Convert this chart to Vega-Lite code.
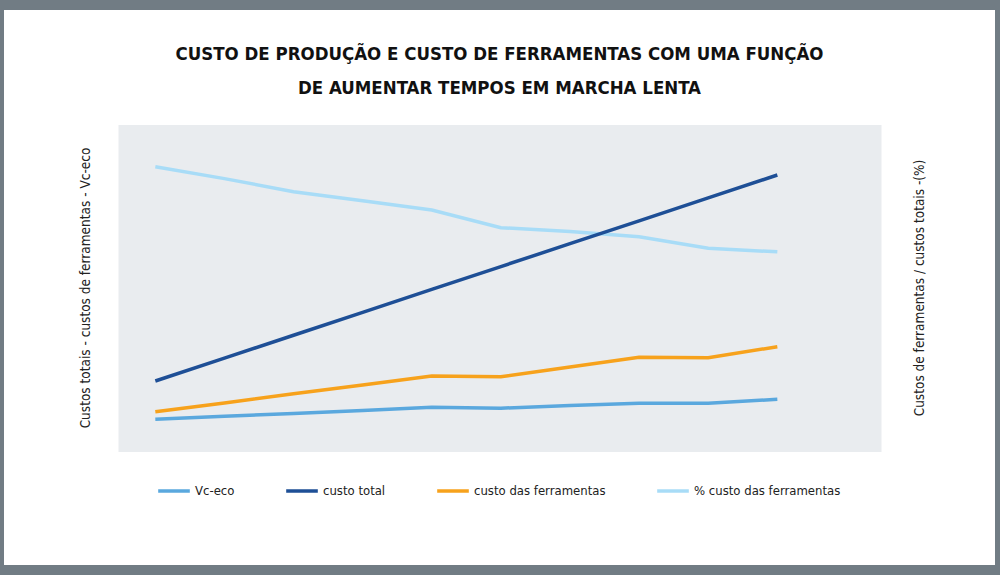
{
  "$schema": "https://vega.github.io/schema/vega-lite/v6.json",
  "width": 763,
  "height": 327,
  "autosize": {"type": "none"},
  "padding": {"left": 118, "top": 124, "right": 119, "bottom": 124},
  "background": "#717c84",
  "title": {
    "text": ["CUSTO DE PRODUÇÃO E CUSTO DE FERRAMENTAS COM UMA FUNÇÃO", "DE AUMENTAR TEMPOS EM MARCHA LENTA"],
    "font": "DejaVu Sans Condensed, serif",
    "fontSize": 18.5,
    "fontWeight": "bold",
    "color": "#111111",
    "lineHeight": 34,
    "anchor": "middle",
    "frame": "group",
    "offset": 27
  },
  "data": {
    "values": [
      {"x": 1, "serie": "Vc-eco", "v": 9.7},
      {"x": 2, "serie": "Vc-eco", "v": 10.6},
      {"x": 3, "serie": "Vc-eco", "v": 11.5},
      {"x": 4, "serie": "Vc-eco", "v": 12.4},
      {"x": 5, "serie": "Vc-eco", "v": 13.4},
      {"x": 6, "serie": "Vc-eco", "v": 13.1},
      {"x": 7, "serie": "Vc-eco", "v": 13.9},
      {"x": 8, "serie": "Vc-eco", "v": 14.6},
      {"x": 9, "serie": "Vc-eco", "v": 14.6},
      {"x": 10, "serie": "Vc-eco", "v": 15.8},
      {"x": 1, "serie": "custo total", "v": 21.4},
      {"x": 2, "serie": "custo total", "v": 28.4},
      {"x": 3, "serie": "custo total", "v": 35.4},
      {"x": 4, "serie": "custo total", "v": 42.4},
      {"x": 5, "serie": "custo total", "v": 49.4},
      {"x": 6, "serie": "custo total", "v": 56.4},
      {"x": 7, "serie": "custo total", "v": 63.4},
      {"x": 8, "serie": "custo total", "v": 70.4},
      {"x": 9, "serie": "custo total", "v": 77.4},
      {"x": 10, "serie": "custo total", "v": 84.4},
      {"x": 1, "serie": "custo das ferramentas", "v": 12.0},
      {"x": 2, "serie": "custo das ferramentas", "v": 14.7},
      {"x": 3, "serie": "custo das ferramentas", "v": 17.5},
      {"x": 4, "serie": "custo das ferramentas", "v": 20.2},
      {"x": 5, "serie": "custo das ferramentas", "v": 22.9},
      {"x": 6, "serie": "custo das ferramentas", "v": 22.7},
      {"x": 7, "serie": "custo das ferramentas", "v": 25.7},
      {"x": 8, "serie": "custo das ferramentas", "v": 28.7},
      {"x": 9, "serie": "custo das ferramentas", "v": 28.5},
      {"x": 10, "serie": "custo das ferramentas", "v": 31.9},
      {"x": 1, "serie": "% custo das ferramentas", "v": 86.9},
      {"x": 2, "serie": "% custo das ferramentas", "v": 83.3},
      {"x": 3, "serie": "% custo das ferramentas", "v": 79.3},
      {"x": 4, "serie": "% custo das ferramentas", "v": 76.5},
      {"x": 5, "serie": "% custo das ferramentas", "v": 73.7},
      {"x": 6, "serie": "% custo das ferramentas", "v": 68.3},
      {"x": 7, "serie": "% custo das ferramentas", "v": 67.1},
      {"x": 8, "serie": "% custo das ferramentas", "v": 65.5},
      {"x": 9, "serie": "% custo das ferramentas", "v": 62.0},
      {"x": 10, "serie": "% custo das ferramentas", "v": 60.9}
    ]
  },
  "encoding": {
    "x": {"field": "x", "type": "quantitative", "scale": {"domain": [0.46, 11.5]}, "axis": null},
    "color": {
      "field": "serie",
      "type": "nominal",
      "scale": {
        "domain": ["Vc-eco", "custo total", "custo das ferramentas", "% custo das ferramentas"],
        "range": ["#5aa8de", "#1e4f96", "#f7a21c", "#a8dcf7"]
      },
      "legend": {
        "orient": "none",
        "legendX": 38,
        "legendY": 349,
        "direction": "horizontal",
        "title": null,
        "symbolType": "stroke",
        "symbolSize": 1000,
        "symbolStrokeWidth": 3.5,
        "labelFont": "DejaVu Sans Condensed, serif",
        "labelFontSize": 13,
        "labelColor": "#222222",
        "columnPadding": 44,
        "labelOffset": 3,
        "padding": 0
      }
    }
  },
  "layer": [
    {
      "transform": [{"filter": "datum.serie == '% custo das ferramentas'"}],
      "mark": {"type": "line", "strokeWidth": 3.5},
      "encoding": {
        "y": {
          "field": "v",
          "type": "quantitative",
          "scale": {"domain": [0, 100]},
          "axis": {
            "orient": "right",
            "title": "Custos de ferramentas / custos totais -(%)",
            "labels": false,
            "ticks": false,
            "domain": false,
            "grid": false,
            "titleAngle": 270,
            "titlePadding": 45,
            "titleFont": "DejaVu Sans Condensed, serif",
            "titleFontSize": 13.5,
            "titleFontWeight": "normal",
            "titleColor": "#222222"
          }
        }
      }
    },
    {
      "transform": [{"filter": "datum.serie != '% custo das ferramentas'"}],
      "mark": {"type": "line", "strokeWidth": 3.5},
      "encoding": {
        "y": {
          "field": "v",
          "type": "quantitative",
          "scale": {"domain": [0, 100]},
          "axis": {
            "orient": "left",
            "title": "Custos totais - custos de ferramentas - Vc-eco",
            "labels": false,
            "ticks": false,
            "domain": false,
            "grid": true,
            "values": [50],
            "gridColor": "#e9ecef",
            "gridWidth": 327,
            "gridOpacity": 1,
            "titlePadding": 26,
            "titleFont": "DejaVu Sans Condensed, serif",
            "titleFontSize": 13.5,
            "titleFontWeight": "normal",
            "titleColor": "#222222"
          }
        }
      }
    }
  ],
  "resolve": {"scale": {"y": "independent"}},
  "config": {
    "view": {"fill": null, "stroke": "#ffffff", "strokeWidth": 228}
  }
}
